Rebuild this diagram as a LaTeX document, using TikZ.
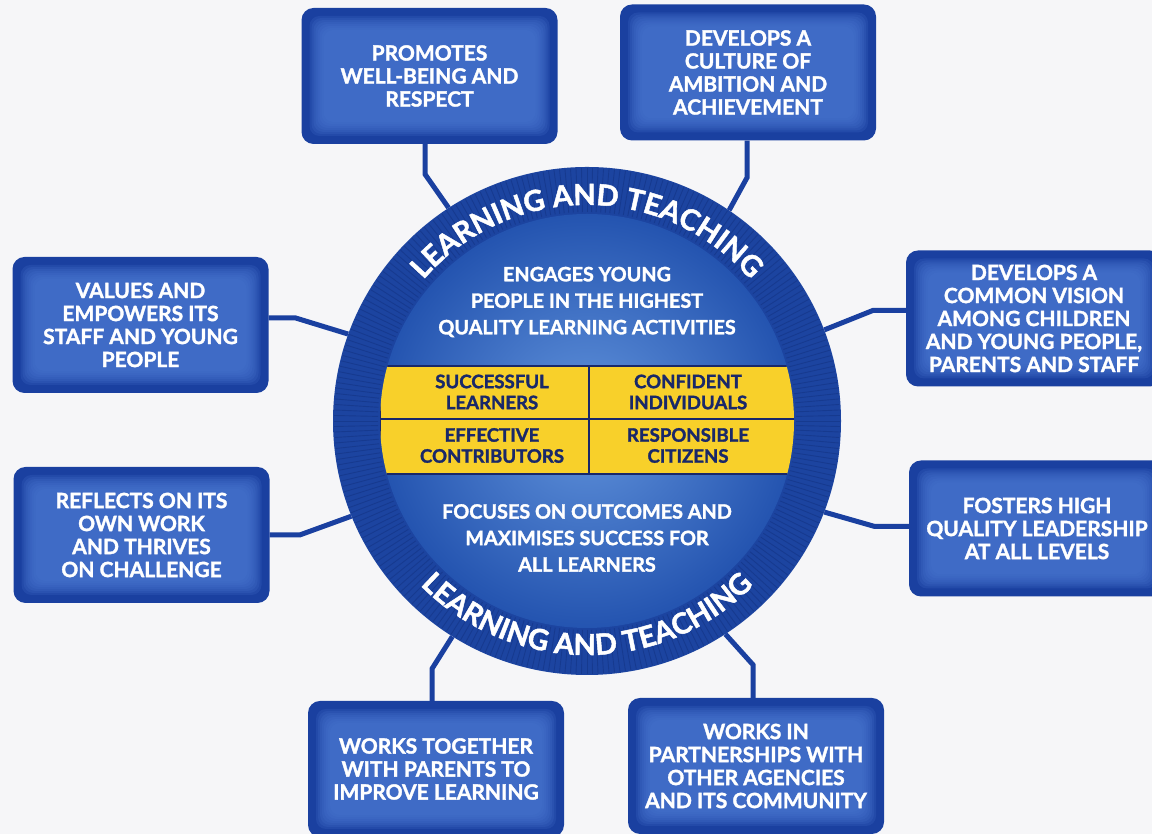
\documentclass[tikz,border=0pt]{standalone}
\usepackage{fontspec}
\setmainfont{Lato}[BoldFeatures={FakeBold=1.6}]
\usetikzlibrary{decorations.text}
\definecolor{paper}{RGB}{246,246,248}
\definecolor{boxdark}{RGB}{26,64,160}
\definecolor{boxlight}{RGB}{72,118,208}
\definecolor{bandblue}{RGB}{28,68,160}
\definecolor{stripeblue}{RGB}{16,46,124}
\definecolor{disclight}{RGB}{98,148,220}
\definecolor{discdark}{RGB}{36,84,176}
\definecolor{gold}{RGB}{248,208,42}
\definecolor{navy}{RGB}{25,40,105}
\begin{document}
\begin{tikzpicture}[x=1pt,y=1pt,
    box/.style={rectangle, rounded corners=12pt, fill=boxdark,
        minimum width=256pt, minimum height=136pt, text=white, align=center,
        font=\bfseries\fontsize{21}{23}\selectfont,
        path picture={\foreach \i in {1,...,8}
            \fill[boxlight, opacity=.2, rounded corners=10pt]
                ([shift={(6+2*\i,6+2*\i)}]path picture bounding box.south west) rectangle
                ([shift={(-6-2*\i,-6-2*\i)}]path picture bounding box.north east);}},
    link/.style={draw=boxdark, line width=5pt},
    stripe/.style={draw=stripeblue, line width=.9pt, opacity=.45},
    cell/.style={align=center, text=navy, font=\bfseries\fontsize{18.6}{21}\selectfont},
    midtext/.style={align=center, text=white, font=\bfseries\fontsize{19.8}{26.5}\selectfont},
    arctext/.style={decorate, decoration={text along path, text align=center,
        text color=white, text={|\bfseries\fontsize{29}{29}\selectfont|LEARNING AND TEACHING}}}]
    \useasboundingbox (0,0) rectangle (1152,834);
    \fill[paper] (0,0) rectangle (1152,834);
    \coordinate (c) at (587,413);

    % the wheel
    \node[circle, fill=bandblue, minimum size=508pt, inner sep=0pt] (ring) at (c) {};
    \foreach \a in {0,1.25,...,358.75}
        \draw[stripe] ([shift={(\a:209pt)}]c) -- ([shift={(\a:253pt)}]c);
    \node[circle, shading=radial, inner color=disclight, outer color=discdark,
        minimum size=414pt, inner sep=0pt] (disc) at (c) {};
    \begin{scope}
        \clip (c) circle (207pt);
        \draw[fill=gold, draw=navy, line width=1.3pt] (380,360) rectangle (800,468);
        \draw[navy, line width=1.3pt] (380,415) -- (800,415);
        \draw[navy, line width=1.3pt] (589,360) -- (589,468);
    \end{scope}
    \node[cell] (sl) at (492,442) {SUCCESSFUL\\LEARNERS};
    \node[cell] (ci) at (688,442) {CONFIDENT\\INDIVIDUALS};
    \node[cell] (ec) at (492,388.5) {EFFECTIVE\\CONTRIBUTORS};
    \node[cell] (rc) at (688,388.5) {RESPONSIBLE\\CITIZENS};
    \node[midtext] (engage) at (587,532) {ENGAGES YOUNG\\PEOPLE IN THE HIGHEST\\QUALITY LEARNING ACTIVITIES};
    \node[midtext] (focus) at (587,296) {FOCUSES ON OUTCOMES AND\\MAXIMISES SUCCESS FOR\\ALL LEARNERS};
    \path[arctext] ([shift={(155:216pt)}]c) arc[start angle=155, end angle=25, radius=216pt];
    \path[arctext] ([shift={(215:234pt)}]c) arc[start angle=215, end angle=325, radius=234pt];

    % the eight boxes
    \node[box] (b1) at (429.5,758) {PROMOTES\\WELL-BEING AND\\RESPECT};
    \node[box] (b2) at (748,761.5) {DEVELOPS A\\CULTURE OF\\AMBITION AND\\ACHIEVEMENT};
    \node[box] (b3) at (140.5,509) {VALUES AND\\EMPOWERS ITS\\STAFF AND YOUNG\\PEOPLE};
    \node[box] (b4) at (1034,515.5) {DEVELOPS A\\COMMON VISION\\AMONG CHILDREN\\AND YOUNG PEOPLE,\\PARENTS AND STAFF};
    \node[box] (b5) at (141.5,299) {REFLECTS ON ITS\\OWN WORK\\AND THRIVES\\ON CHALLENGE};
    \node[box] (b6) at (1037,305.5) {FOSTERS HIGH\\QUALITY LEADERSHIP\\AT ALL LEVELS};
    \node[box] (b7) at (436,65) {WORKS TOGETHER\\WITH PARENTS TO\\IMPROVE LEARNING};
    \node[box] (b8) at (756,68) {WORKS IN\\PARTNERSHIPS WITH\\OTHER AGENCIES\\AND ITS COMMUNITY};

    % connectors
    \draw[link] ([xshift=-4.5]b1.south) -- ++(0,-30) -- (ring.123);
    \draw[link] ([xshift=-1]b2.south) -- ++(0,-37) -- (ring.56);
    \draw[link] ([yshift=7]b3.east) -- ++(27,0) -- (ring.160);
    \draw[link] ([yshift=8]b4.west) -- ++(-33,0) -- (ring.21);
    \draw[link] (b5.east) -- ++(30,0) -- (ring.202.5);
    \draw[link] ([yshift=2]b6.west) -- ++(-34,0) -- (ring.339.5);
    \draw[link] ([xshift=-4]b7.north) -- ++(0,32) -- (ring.238);
    \draw[link] ([xshift=-3]b8.north) -- ++(0,33) -- (ring.303.5);
\end{tikzpicture}
\end{document}
